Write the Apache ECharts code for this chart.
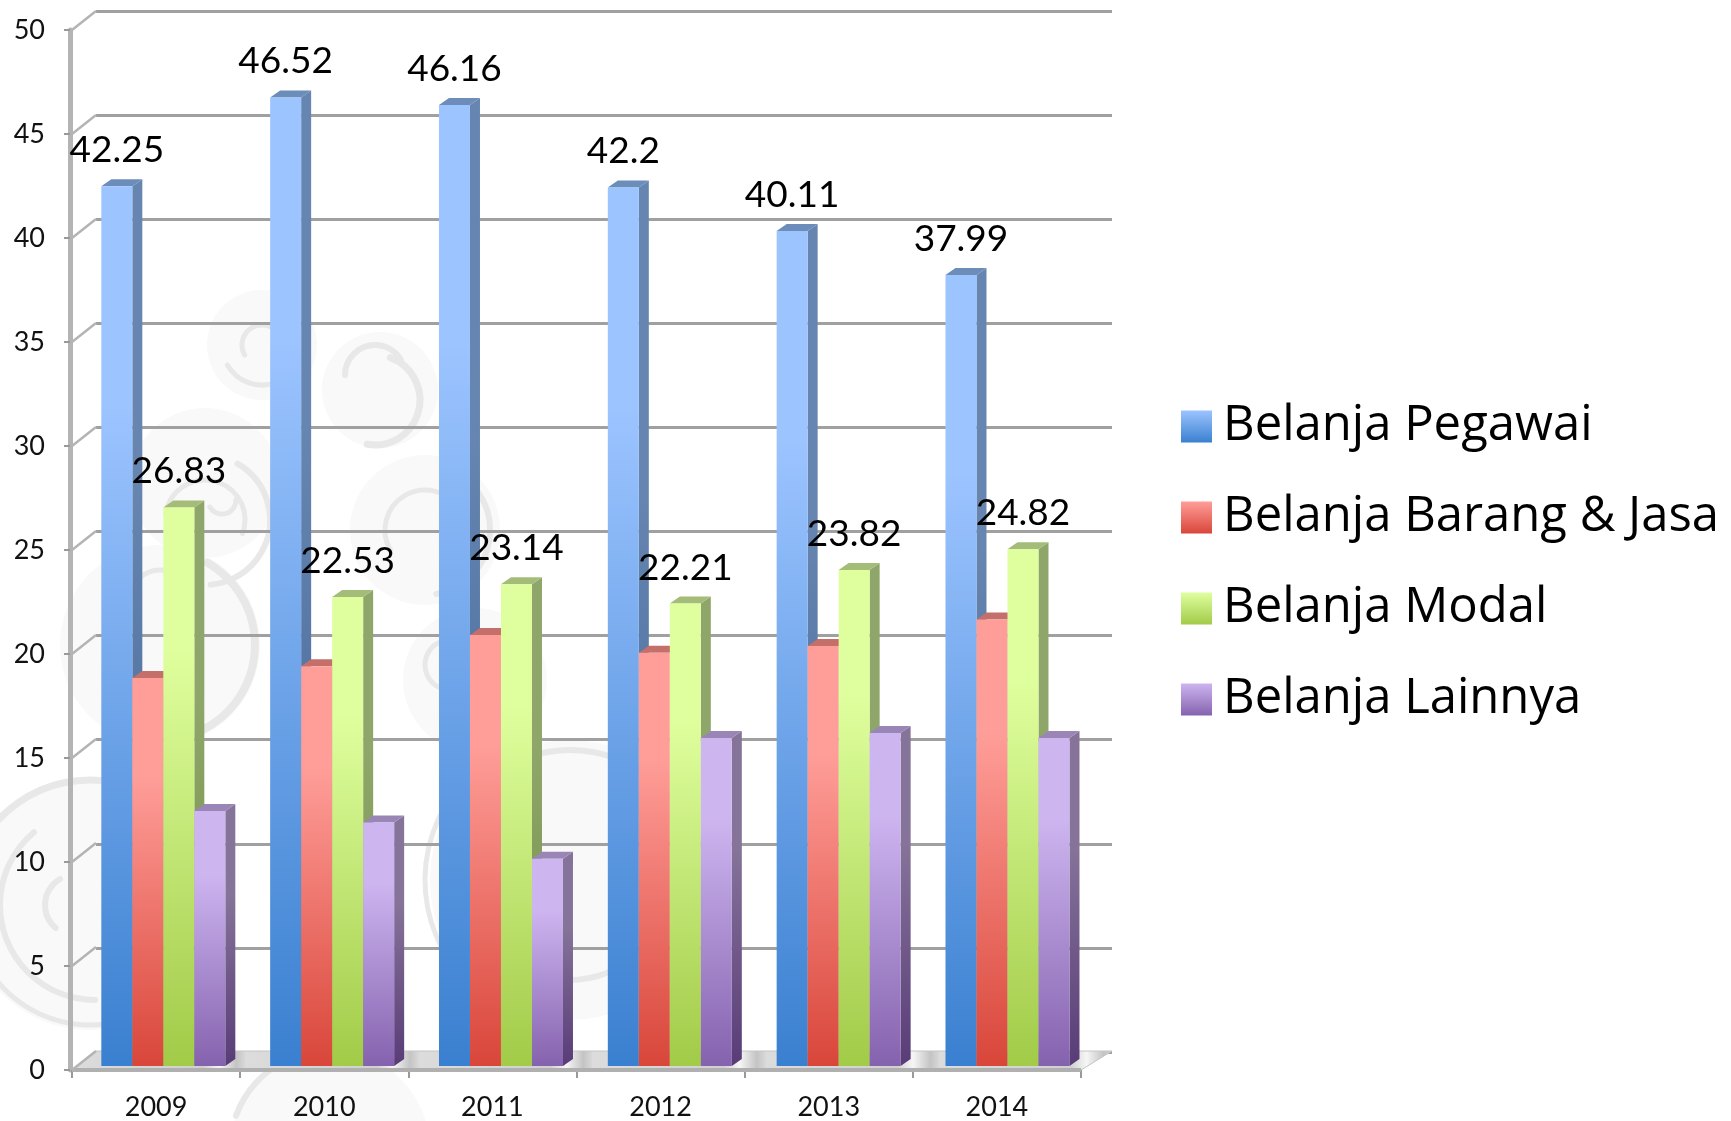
<!DOCTYPE html>
<html><head><meta charset="utf-8">
<style>html,body{margin:0;padding:0;background:#fff}#c{width:1731px;height:1121px}</style>
<script src="https://cdn.jsdelivr.net/npm/echarts@6/dist/echarts.min.js"></script>
</head><body><div id="c"></div>
<script>
const years = ['2009','2010','2011','2012','2013','2014'];
const belanjaPegawai = [42.25,46.52,46.16,42.2,40.11,37.99];
const belanjaBarangJasa = [18.63,19.2,20.7,19.85,20.17,21.45];
const belanjaModal = [26.83,22.53,23.14,22.21,23.82,24.82];
const belanjaLainnya = [12.25,11.7,9.95,15.75,16.0,15.75];
const yTicks = [0,5,10,15,20,25,30,35,40,45,50];
const seriesNames = ['Belanja Pegawai','Belanja Barang & Jasa','Belanja Modal','Belanja Lainnya'];

const FONT = 'Lato';
const grad = (a,b,p) => ({type:'linear',x:0,y:0,x2:0,y2:1,colorStops:[{offset:0,color:a},{offset:p||0,color:a},{offset:1,color:b}]});
const palette = [
  {front:['#9cc4ff','#3a80d0'],side:['#6685b0','#3c5f94'],top:'#6c8cba'},
  {front:['#ff9e99','#d9463a'],side:['#b86a66','#9a3a32'],top:'#c56f6b'},
  {front:['#dfff9e','#a2cb48'],side:['#8fa66a','#6f8d40'],top:'#a3bd78'},
  {front:['#cdb5f0','#8562ae'],side:['#857399','#583c77'],top:'#9a86b6'}
];

const BW = 31, DX = 10, DY = 7;
function barItem(si, showLabel){
  return function(params, api){
    const xi = api.value(0), v = api.value(1);
    const t = api.coord([xi, v]), b = api.coord([xi, 0]);
    const x = t[0] - 2*BW + si*BW, w = BW, p = palette[si];
    const kids = [
      {type:'polygon',shape:{points:[[x+w,t[1]],[x+w+DX,t[1]-DY],[x+w+DX,b[1]-DY],[x+w,b[1]]]},style:{fill:grad(p.side[0],p.side[1],0.35)}},
      {type:'polygon',shape:{points:[[x,t[1]],[x+w,t[1]],[x+w+DX,t[1]-DY],[x+DX,t[1]-DY]]},style:{fill:p.top}},
      {type:'rect',shape:{x:x,y:t[1],width:w,height:b[1]-t[1]},style:{fill:grad(p.front[0],p.front[1],0.25)}}
    ];
    if(showLabel){
      kids.push({type:'text',z2:50,style:{x:x+w/2,y:t[1]-36,text:String(v),fill:'#000',font:'37px '+FONT,textAlign:'center',textVerticalAlign:'middle'}});
    }
    return {type:'group',children:kids};
  };
}
const seriesData = [belanjaPegawai,belanjaBarangJasa,belanjaModal,belanjaLainnya];
const barSeries = seriesData.map((vals,si)=>({
  type:'custom',name:seriesNames[si],xAxisIndex:2,yAxisIndex:2,z:5+si,
  encode:{x:0,y:1},clip:false,
  itemStyle:{color:grad(palette[si].front[0],palette[si].front[1])},
  data:vals.map((v,i)=>[i,v]),
  renderItem:barItem(si, si===0||si===2)
}));

const obliqueSeries = {
  type:'custom',xAxisIndex:0,yAxisIndex:0,z:1,silent:true,clip:false,
  data:yTicks.map(v=>[0,v]),encode:{x:0,y:1},
  renderItem:(params,api)=>{
    const y = api.coord([0,api.value(1)])[1], x = params.coordSys.x;
    return {type:'line',shape:{x1:x,y1:y,x2:x+24,y2:y-19},style:{stroke:'#b4b4b4',lineWidth:2.5}};
  }
};
const floorStops=[];
(function(){
  const n=years.length;
  for(let i=0;i<n;i++){
    const a=i/n,w=1/n;
    floorStops.push({offset:a,color:'#dcdcdc'},{offset:a+w*0.76,color:'#d0d0d0'},{offset:a+w*0.85,color:'#f6f6f6'},{offset:a+w*0.95,color:'#c4c4c4'},{offset:a+w,color:'#d8d8d8'});
  }
})();
const floorSeries = {
  type:'custom',xAxisIndex:0,yAxisIndex:0,z:1,silent:true,clip:false,
  data:[[0,0]],encode:{x:0,y:1},
  renderItem:(params,api)=>{
    const y = api.coord([0,0])[1], c = params.coordSys;
    return {type:'group',children:[
      {type:'polygon',shape:{points:[[c.x,y],[c.x+c.width,y],[c.x+c.width+31,y-19],[c.x+24,y-19]]},
       style:{fill:{type:'linear',x:0,y:0,x2:1,y2:0,colorStops:floorStops},stroke:'#c4c4c4',lineWidth:1}},
      {type:'line',shape:{x1:c.x,y1:y,x2:c.x+c.width,y2:y},style:{stroke:'#b0b0b0',lineWidth:4}}
    ]};
  }
};

const wmFill='#f9f9f9', wmLine='#e8e8e8';
const circ=(cx,cy,r)=>({type:'circle',z:-10,silent:true,shape:{cx,cy,r},style:{fill:wmFill}});
const arc=(cx,cy,r,s,e,lw)=>({type:'arc',z:-9,silent:true,shape:{cx,cy,r,startAngle:s*Math.PI/180,endAngle:e*Math.PI/180},style:{fill:'none',stroke:wmLine,lineWidth:lw||4,lineCap:'round'}});
const watermark=[
  circ(262,345,55),circ(380,390,58),circ(205,483,75),circ(425,530,75),
  circ(160,645,100),circ(475,680,72),circ(90,905,125),circ(570,880,140),circ(330,1150,100),
  arc(262,345,20,150,330,5),arc(262,345,40,20,150,5),
  arc(375,400,45,-70,100,7),arc(375,375,30,180,330,6),
  arc(205,520,40,-170,20,5),arc(222,500,14,0,150,5),arc(205,520,65,-60,85,6),
  arc(425,530,40,150,300,5),arc(425,530,65,-40,80,6),
  arc(160,645,95,-60,85,8),arc(160,600,30,180,300,5),
  arc(475,680,55,-10,120,7),arc(450,665,25,110,300,5),
  arc(90,905,125,190,350,7),arc(95,905,95,90,230,6),arc(75,905,30,130,240,6),arc(90,905,120,30,170,5),
  arc(570,880,130,230,320,6),arc(570,880,145,130,220,5),arc(570,880,100,40,130,6),
  arc(330,1150,100,200,300,6)
];

const chart = echarts.init(document.getElementById('c'),null,{renderer:'canvas'});
const tickLabel = {color:'#111',fontFamily:FONT,fontSize:27};
chart.setOption({
  backgroundColor:'#fff',animation:false,
  graphic:{elements:watermark},
  grid:[
    {left:72,top:30,width:1009,height:1041},
    {left:96,top:11,width:1016,height:1041},
    {left:78.9,top:25,width:1013,height:1041}
  ],
  xAxis:[
    {type:'category',gridIndex:0,data:years,boundaryGap:true,
     axisLine:{show:false},axisTick:{show:true,length:8,alignWithLabel:false,lineStyle:{color:'#999',width:2}},
     axisLabel:{...tickLabel,margin:24}},
    {type:'category',gridIndex:1,data:years,show:false},
    {type:'category',gridIndex:2,data:years,show:false}
  ],
  yAxis:[
    {type:'value',gridIndex:0,min:0,max:50,interval:5,offset:2,
     axisLine:{show:true,lineStyle:{color:'#b4b4b4',width:5}},
     axisTick:{show:true,length:6,lineStyle:{color:'#999',width:2}},
     splitLine:{show:false},axisLabel:{...tickLabel,margin:25,padding:[6,0,0,0]}},
    {type:'value',gridIndex:1,min:0,max:50,interval:5,axisLine:{show:false},axisTick:{show:false},axisLabel:{show:false},
     splitLine:{show:true,lineStyle:{color:'#a0a0a0',width:3}}},
    {type:'value',gridIndex:2,min:0,max:50,interval:5,show:false,splitLine:{show:false}}
  ],
  legend:{
    orient:'vertical',left:1176,top:397,itemWidth:31,itemHeight:32,itemGap:42,selectedMode:false,
    textStyle:{color:'#000',fontFamily:'Open Sans',fontSize:49,padding:[0,0,0,6]},
    data:seriesNames.map((n,i)=>({name:n,icon:'rect',itemStyle:{color:grad(palette[i].front[0],palette[i].front[1])}}))
  },
  series:[floorSeries,obliqueSeries,...barSeries]
});
</script></body></html>
